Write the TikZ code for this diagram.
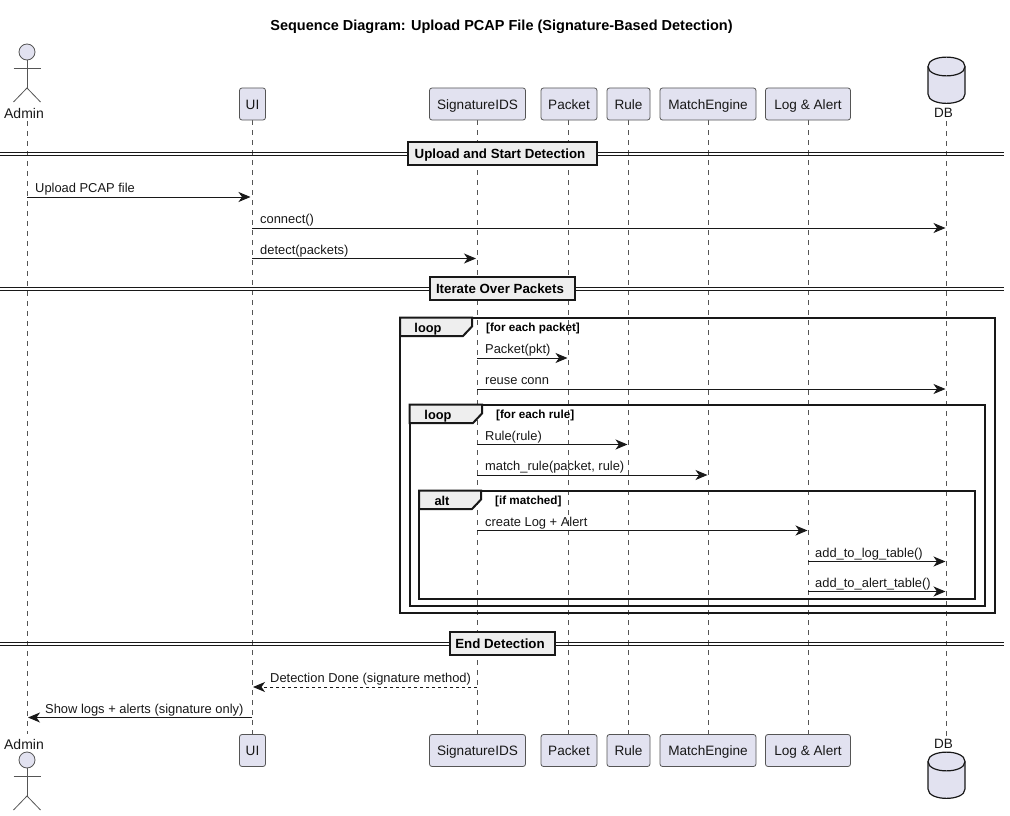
\documentclass[tikz,border=0pt]{standalone}
\usepackage{fontspec}
\setmainfont{Liberation Sans}
\usetikzlibrary{arrows.meta}
\definecolor{bb}{RGB}{226, 226, 240}
\definecolor{ee}{RGB}{238, 238, 238}
\definecolor{kk}{RGB}{24, 24, 24}
\definecolor{ll}{RGB}{85, 85, 85}
\def\boxh{32}
\tikzset{
	>={Stealth[length=12pt,width=10pt,inset=3.5pt]},
	partbox/.style={draw=ll,fill=bb,rounded corners=2.5pt,line width=0.8pt,minimum height=\boxh pt,inner sep=0pt,text height=11pt,text depth=0.4pt,font=\fontsize{13.6}{15}\selectfont,text=kk},
	lifeline/.style={draw=ll,line width=0.6pt,dash pattern=on 5pt off 5pt},
	msgline/.style={draw=kk,line width=1pt},
	msgtext/.style={anchor=base west,inner sep=0pt,font=\fontsize{12.9}{15}\selectfont,text=kk},
	frameline/.style={draw=kk,line width=2pt},
	dividerbox/.style={draw=kk,fill=ee,line width=2pt,inner sep=0pt,minimum height=23pt,text height=10pt,text depth=0.4pt,font=\bfseries\fontsize{13.3}{15}\selectfont,text=black},
}
\newcommand{\actorfig}[3]{\node[draw=ll,fill=bb,circle,minimum size=16pt,inner sep=0pt,line width=0.8pt] (#3) at (#1,#2) {};
	\coordinate (#3arml) at (#1-13.5,#2+16);
	\coordinate (#3armr) at (#1+13.5,#2+16);
	\coordinate (#3hip) at (#1,#2+36);
	\coordinate (#3legl) at (#1-13.5,#2+50);
	\coordinate (#3legr) at (#1+13.5,#2+50);
	\draw[draw=ll,line width=0.8pt] (#3) -- (#3hip);
	\draw[draw=ll,line width=0.8pt] (#3arml) -- (#3armr);
	\draw[draw=ll,line width=0.8pt] (#3legl) -- (#3hip) -- (#3legr); }
\newcommand{\dbfig}[2]{\path[draw=kk,fill=bb,line width=1.2pt] (#1-18.5,#2+9.5) .. controls (#1-18.5,#2-3) and (#1+18.5,#2-3) .. (#1+18.5,#2+9.5) -- (#1+18.5,#2+37) .. controls (#1+18.5,#2+49.5) and (#1-18.5,#2+49.5) .. (#1-18.5,#2+37) -- cycle;
	\path[draw=kk,line width=1.2pt] (#1-18.5,#2+9.5) .. controls (#1-18.5,#2+22) and (#1+18.5,#2+22) .. (#1+18.5,#2+9.5); }
\newcommand{\msg}[7][]{\coordinate (#2a) at (#3,#5);
	\coordinate (#2b) at (#4,#5);
	\draw[->,msgline,#1] (#2a) -- (#2b);
	\node[msgtext] (#2text) at (#6,#5-4.5) {#7}; }
\newcommand{\divider}[6]{\coordinate (#1l) at (0,#3);
	\coordinate (#1r) at (1004,#3);
	\coordinate (#1k) at (0,#3+3);
	\coordinate (#1s) at (1004,#3+3);
	\draw[draw=kk,line width=1pt] (#1l) -- (#1r);
	\draw[draw=kk,line width=1pt] (#1k) -- (#1s);
	\node[dividerbox,minimum width=#5 pt] (#1) at (#4,#2) {\hspace*{-5pt}#6}; }
\newcommand{\seqframe}[9]{\coordinate (#1a) at (#2,#3);
	\coordinate (#1b) at (#4,#5);
	\draw[frameline] (#1a) rectangle (#1b);
	\path[frameline,fill=ee] (#2,#3) -- (#6,#3) -- (#6,#3+9) -- (#6-9,#3+18.5) -- (#2,#3+18.5) -- cycle;
	\node[inner sep=0pt,anchor=base,font=\bfseries\fontsize{12.8}{15}\selectfont] (#1tab) at (#7,#3+14.5) {#8};
	\node[inner sep=0pt,anchor=base west,font=\bfseries\fontsize{11.7}{13}\selectfont] (#1cond) at (#6+14,#3+14) {#9}; }
\begin{document}
\begin{tikzpicture}[x=1pt,y=-1pt]
	\useasboundingbox (0,0) rectangle (1010,816);
	\node[inner sep=0pt,font=\bfseries\fontsize{14.5}{16}\selectfont] (title) at (501.5,26.5) {Sequence Diagram: Upload PCAP File (Signature-Based Detection)};

	\actorfig{27}{52}{admin}
	\actorfig{27}{760}{adminb}
	\node[inner sep=0pt,font=\fontsize{14}{16}\selectfont,text=kk] (adminl) at (24,113) {Admin};
	\node[inner sep=0pt,font=\fontsize{14}{16}\selectfont,text=kk] (adminbl) at (24,744) {Admin};

	\coordinate (admint) at (27,121);
	\coordinate (adminu) at (27,734);
	\coordinate (dbt) at (946,121);
	\coordinate (dbu) at (946,736);
	\coordinate (uit) at (252,120);
	\coordinate (uiu) at (252,734);
	\coordinate (sigt) at (477,120);
	\coordinate (sigu) at (477,734);
	\coordinate (packett) at (568,120);
	\coordinate (packetu) at (568,734);
	\coordinate (rulet) at (628,120);
	\coordinate (ruleu) at (628,734);
	\coordinate (matcht) at (708,120);
	\coordinate (matchu) at (708,734);
	\coordinate (logt) at (808,120);
	\coordinate (logu) at (808,734);
	\draw[lifeline] (admint) -- (adminu);
	\draw[lifeline] (uit) -- (uiu);
	\draw[lifeline] (sigt) -- (sigu);
	\draw[lifeline] (packett) -- (packetu);
	\draw[lifeline] (rulet) -- (ruleu);
	\draw[lifeline] (matcht) -- (matchu);
	\draw[lifeline] (logt) -- (logu);
	\draw[lifeline] (dbt) -- (dbu);

	\node[partbox,minimum width=26pt] (ui) at (252.5,104) {UI};
	\node[partbox,minimum width=96pt] (sig) at (477.5,104) {SignatureIDS};
	\node[partbox,minimum width=56pt] (packet) at (569,104) {Packet};
	\node[partbox,minimum width=43pt] (rule) at (628.5,104) {Rule};
	\node[partbox,minimum width=96pt] (match) at (708,104) {MatchEngine};
	\node[partbox,minimum width=85pt] (logalert) at (808,104) {Log \& Alert};
	\node[partbox,minimum width=26pt] (uib) at (252.5,750.5) {UI};
	\node[partbox,minimum width=96pt] (sigb) at (477.5,750.5) {SignatureIDS};
	\node[partbox,minimum width=56pt] (packetb) at (569,750.5) {Packet};
	\node[partbox,minimum width=43pt] (ruleb) at (628.5,750.5) {Rule};
	\node[partbox,minimum width=96pt] (matchb) at (708,750.5) {MatchEngine};
	\node[partbox,minimum width=85pt] (logalertb) at (808,750.5) {Log \& Alert};

	\dbfig{946.5}{57}
	\dbfig{946.5}{752}
	\node[inner sep=0pt,font=\fontsize{13.5}{15}\selectfont,text=kk] (dbl) at (943.5,113) {DB};
	\node[inner sep=0pt,font=\fontsize{13.5}{15}\selectfont,text=kk] (dbbl) at (943.5,744) {DB};

	\divider{upload}{153.5}{152}{502.5}{189}{Upload and Start Detection}
	\divider{iterate}{288.5}{287}{502.5}{145}{Iterate Over Packets}
	\divider{finish}{643.5}{642}{502.5}{105}{End Detection}

	\seqframe{outer}{400}{317.5}{994.5}{612.5}{472}{428}{loop}{[for each packet]}
	\seqframe{inner}{409.5}{404.5}{985}{606}{482}{438}{loop}{[for each rule]}
	\seqframe{alt}{419}{490.5}{975}{599}{481}{442}{alt}{[if matched]}

	\msg{up}{27}{250.5}{197}{35}{Upload PCAP file}
	\msg{conn}{252}{945.5}{228}{260}{connect()}
	\msg{det}{252}{476}{258.5}{260}{detect(packets)}
	\msg{pkt}{477}{567.5}{358}{485}{Packet(pkt)}
	\msg{reuse}{477}{945.5}{389}{485}{reuse conn}
	\msg{rul}{477}{627.5}{444.5}{485}{Rule(rule)}
	\msg{mr}{477}{707.5}{475}{485}{match\_rule(packet, rule)}
	\msg{cre}{477}{807.5}{530.5}{485}{create Log + Alert}
	\msg{lt}{808}{945.5}{561.5}{815}{add\_to\_log\_table()}
	\msg{at}{808}{945.5}{591.5}{815}{add\_to\_alert\_table()}
	\msg[dashed]{done}{477}{253}{687}{270}{Detection Done (signature method)}
	\msg{show}{252}{28}{717.5}{45}{Show logs + alerts (signature only)}
\end{tikzpicture}
\end{document}
